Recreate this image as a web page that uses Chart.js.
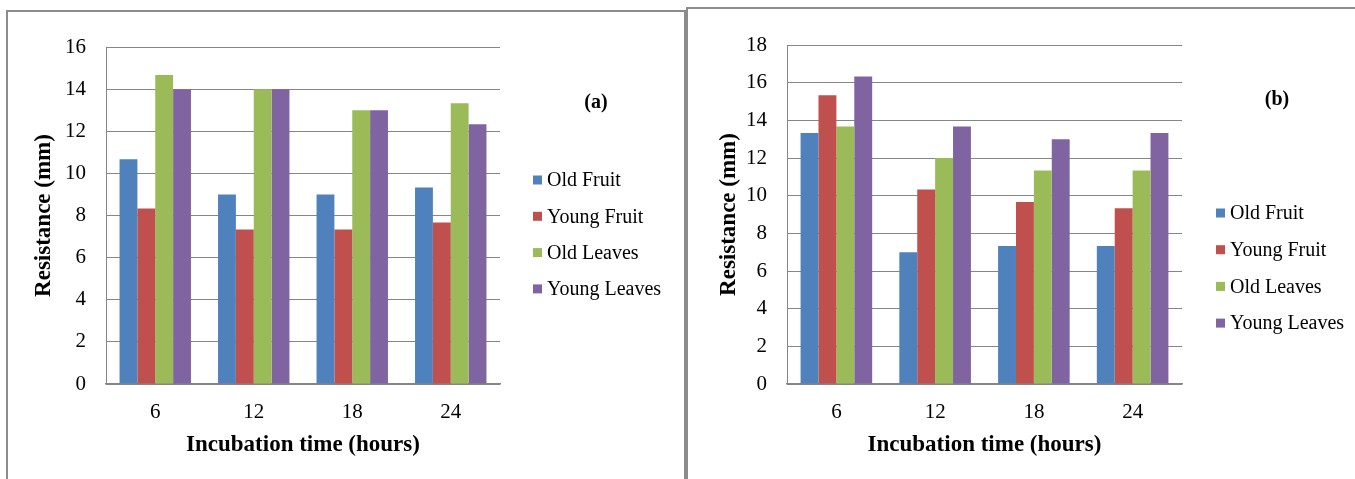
<!DOCTYPE html>
<html>
<head>
<meta charset="utf-8">
<script src="https://cdn.jsdelivr.net/npm/chart.js@4"></script>
<style>
  body { margin: 0; background: #fff; width: 1355px; height: 479px; overflow: hidden; position: relative; }
  .frame { position: absolute; border: 2px solid #8c8c8c; border-bottom: none; }
  #frameA { left: 6px; top: 10px; width: 676px; height: 480px; }
  #frameB { left: 686px; top: 7px; width: 700px; height: 480px; border-right: none; }
  canvas { position: absolute; top: 0; }
  #chartA { left: 0; }
  #chartB { left: 686px; }
</style>
</head>
<body>
<div class="frame" id="frameA"></div>
<div class="frame" id="frameB"></div>
<canvas id="chartA" width="686" height="479"></canvas>
<canvas id="chartB" width="669" height="479"></canvas>
<script>
// categories and series
const hours = ['6', '12', '18', '24'];
const seriesNames = ['Old Fruit', 'Young Fruit', 'Old Leaves', 'Young Leaves'];
const seriesColors = ['#4F81BD', '#C0504D', '#9BBB59', '#8064A2'];

// panel (a)
const oldFruitA = [10.67, 9, 9, 9.33];
const youngFruitA = [8.33, 7.33, 7.33, 7.67];
const oldLeavesA = [14.67, 14, 13, 13.33];
const youngLeavesA = [14, 14, 13, 12.33];

// panel (b)
const oldFruitB = [13.33, 7, 7.33, 7.33];
const youngFruitB = [15.33, 10.33, 9.67, 9.33];
const oldLeavesB = [13.67, 12, 11.33, 11.33];
const youngLeavesB = [16.33, 13.67, 13, 13.33];

// y axis ranges
const yMaxA = 16;
const yMaxB = 18;
const yStep = 2;

const serif = '"Liberation Serif", "Times New Roman", serif';

// legend on the right plus the (a)/(b) tag
const sideLegend = {
  id: 'sideLegend',
  afterDraw(chart, args, opts) {
    const ctx = chart.ctx;
    ctx.save();
    ctx.font = '20px ' + serif;
    ctx.textBaseline = 'middle';
    ctx.textAlign = 'left';
    chart.data.datasets.forEach((ds, i) => {
      const y = opts.y + i * opts.gap;
      ctx.fillStyle = ds.backgroundColor;
      ctx.fillRect(opts.x, y - 4.5, 9, 9);
      ctx.fillStyle = '#000';
      ctx.fillText(ds.label, opts.x + 14, y + 1);
    });
    ctx.font = 'bold 20px ' + serif;
    ctx.textAlign = 'center';
    ctx.fillText(opts.tag, opts.tagX, opts.tagY);
    ctx.restore();
  }
};

function makeChart(id, values, yMax, g) {
  const datasets = values.map((v, i) => ({
    label: seriesNames[i],
    data: v,
    backgroundColor: seriesColors[i],
    borderWidth: 0,
    barPercentage: 1,
    categoryPercentage: 0.725
  }));
  return new Chart(document.getElementById(id), {
    type: 'bar',
    data: { labels: hours, datasets: datasets },
    options: {
      responsive: false,
      animation: false,
      layout: { padding: { left: 0, top: g.top, right: g.right, bottom: 0 } },
      plugins: {
        legend: { display: false },
        tooltip: { enabled: false },
        sideLegend: g.legend
      },
      scales: {
        x: {
          grid: { display: false, drawTicks: false },
          border: { color: '#868686', width: 1.5 },
          ticks: { color: '#000', padding: 16, font: { family: serif, size: 21 } },
          title: {
            display: true,
            text: 'Incubation time (hours)',
            color: '#000',
            padding: { top: 0, bottom: 20 },
            font: { family: serif, size: 23, weight: 'bold' }
          },
          afterFit(scale) { scale.height = 95; }
        },
        y: {
          min: 0,
          max: yMax,
          grid: { color: '#868686', lineWidth: 1, drawTicks: false },
          border: { color: '#868686', width: 1 },
          ticks: { stepSize: yStep, color: '#000', padding: 20, font: { family: serif, size: 21 } },
          title: {
            display: true,
            text: 'Resistance (mm)',
            color: '#000',
            padding: { top: g.titleOffset, bottom: 0 },
            font: { family: serif, size: 23, weight: 'bold' }
          },
          afterFit(scale) { scale.width = g.yWidth; }
        }
      }
    },
    plugins: [sideLegend]
  });
}

makeChart('chartA', [oldFruitA, youngFruitA, oldLeavesA, youngLeavesA], yMaxA, {
  top: 47, right: 186, yWidth: 106, titleOffset: 30,
  legend: { x: 533, y: 180, gap: 36.3, tag: '(a)', tagX: 596, tagY: 103 }
});

makeChart('chartB', [oldFruitB, youngFruitB, oldLeavesB, youngLeavesB], yMaxB, {
  top: 45, right: 173, yWidth: 101, titleOffset: 29,
  legend: { x: 530, y: 213, gap: 36.7, tag: '(b)', tagX: 591, tagY: 100 }
});
</script>
</body>
</html>
